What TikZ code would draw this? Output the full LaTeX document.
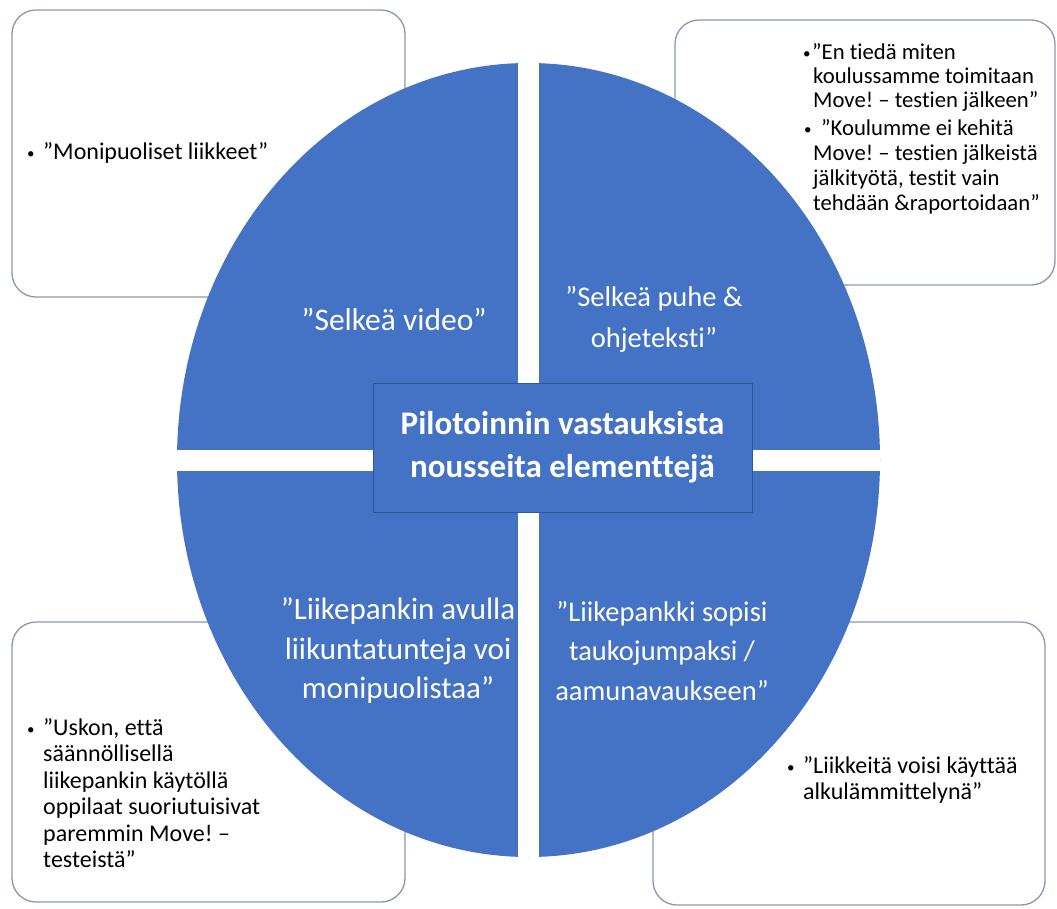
\documentclass[tikz,border=0pt]{standalone}
\usepackage{fontspec}
\setmainfont{Carlito}[Ligatures=NoCommon]
\frenchspacing
\definecolor{blu}{RGB}{68,114,196}
\definecolor{bord}{RGB}{140,150,172}
\definecolor{rectb}{RGB}{47,85,151}
\newcommand{\bulw}[1]{\makebox[#1][l]{\raisebox{1pt}{\fontsize{15}{15}\selectfont •}}}
\begin{document}
\begin{tikzpicture}[x=1pt,y=-1pt,
  box/.style={draw=bord, line width=1.3pt, fill=white, rounded corners=24pt},
  btxt/.style={font=\fontsize{24}{26.5}\selectfont, align=left, inner sep=0, anchor=north west, text=black},
  ctxt/.style={font=\fontsize{31.5}{39.5}\selectfont, align=center, text=white, inner sep=0},
  ]
\useasboundingbox (0,0) rectangle (1057,908);
% corner boxes
\draw[box] (12,10) rectangle (405,297);
\draw[box] (675,20) rectangle (1055,285);
\draw[box] (12,622) rectangle (405,902);
\draw[box] (653,622) rectangle (1045,905);
% big ellipse
\fill[blu] (528.5,460) ellipse [x radius=351.5pt, y radius=397pt];
\begin{scope}
  \clip (528.5,460) ellipse [x radius=351.5pt, y radius=397pt];
  \fill[white] (518,40) rectangle (539,880);
  \fill[white] (150,450) rectangle (910,471);
\end{scope}
% centre rectangle
\node[draw=rectb, fill=blu, line width=0.8pt, minimum width=379pt, minimum height=129pt, inner sep=0,
      align=center, text=white, font=\fontsize{33}{43}\selectfont\bfseries] (ctr) at (562.5,447.5)
      {Pilotoinnin vastauksista\\nousseita elementtejä};
% quadrant texts
\node[ctxt] (q1) at (394,320) {”Selkeä video”};
\node[ctxt, font=\fontsize{28.5}{41}\selectfont] (q2) at (654,319) {”Selkeä puhe \&\\ohjeteksti”};
\node[ctxt, font=\fontsize{31}{39.5}\selectfont] (q3) at (398,651) {”Liikepankin avulla\\liikuntatunteja voi\\monipuolistaa”};
\node[ctxt, font=\fontsize{28.5}{39.5}\selectfont] (q4) at (662,651) {”Liikepankki sopisi\\taukojumpaksi /\\aamunavaukseen”};
% top-left box text
\node[btxt] (t1) at (27,142) {\bulw{16pt}”Monipuoliset liikkeet”};
% top-right box text
\node[btxt, font=\fontsize{22.7}{24}\selectfont] (t2) at (803,43)
  {\bulw{9pt}”En tiedä miten\\\hspace*{10pt}koulussamme toimitaan\\\hspace*{10pt}Move! – testien jälkeen”};
\node[btxt, font=\fontsize{22.7}{25}\selectfont] (t3) at (804,119)
  {\bulw{17pt}”Koulumme ei kehitä\\\hspace*{9pt}Move! – testien jälkeistä\\\hspace*{9pt}jälkityötä, testit vain\\\hspace*{9pt}tehdään \&raportoidaan”};
% bottom-left box text
\node[btxt] (t4) at (27,718)
  {\bulw{16pt}”Uskon, että\\\hspace*{16pt}säännöllisellä\\\hspace*{16pt}liikepankin käytöllä\\\hspace*{16pt}oppilaat suoriutuisivat\\\hspace*{16pt}paremmin Move! –\\\hspace*{16pt}testeistä”};
% bottom-right box text
\node[btxt, font=\fontsize{24}{26}\selectfont] (t5) at (787,756)
  {\bulw{16pt}”Liikkeitä voisi käyttää\\\hspace*{16pt}alkulämmittelynä”};
\end{tikzpicture}
\end{document}
